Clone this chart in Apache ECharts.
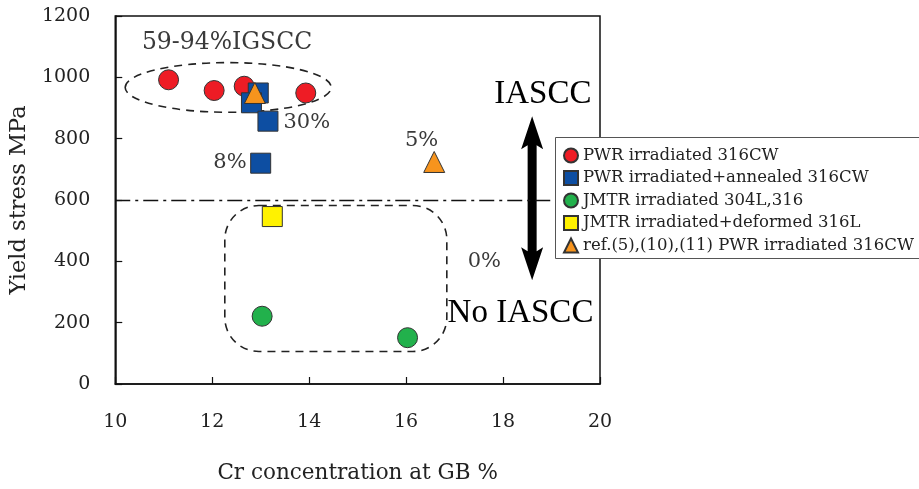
<!DOCTYPE html>
<html>
<head>
<meta charset="utf-8">
<script src="https://cdn.jsdelivr.net/npm/echarts@6/dist/echarts.min.js"></script>
<style>
  html, body { margin: 0; padding: 0; background: #fff; overflow: hidden; }
  #chart { width: 919px; height: 489px; }
</style>
</head>
<body>
<div id="chart"></div>
<script>
// Cr concentration at grain boundary (%) vs yield stress (MPa)
const pwrIrrX = [11.1, 12.04, 12.66, 13.93];
const pwrIrrY = [992, 957, 971, 949];

const pwrAnnX = [12.95, 12.81, 13.15, 13.0];
const pwrAnnY = [949, 917, 857, 720];

const jmtrX = [13.03, 16.03];
const jmtrY = [221, 151];

const jmtrDefX = [13.24];
const jmtrDefY = [546];

const refX = [12.88, 16.58];
const refY = [949, 724];

const seriesNames = [
  'PWR irradiated 316CW',
  'PWR irradiated+annealed 316CW',
  'JMTR irradiated 304L,316',
  'JMTR irradiated+deformed 316L',
  'ref.(5),(10),(11) PWR irradiated 316CW'
];

const xTicks = [10, 12, 14, 16, 18, 20];
const yTicks = [0, 200, 400, 600, 800, 1000, 1200];

// threshold separating IASCC / no IASCC regions
const thresholdY = 600;

// grouping outlines: [centerX, centerY, halfWidthX, halfHeightY]
const igsccEllipse = [12.33, 967, 2.125, 81];
// [xMin, yMin, xMax, yMax]
const noIasccBox = [12.26, 106, 16.84, 582];
// double arrow: [x, yLow, yHigh]
const arrowSpan = [18.6, 338, 873];

// text annotations: [x, y, text, kind]
const notes = [
  [10.55, 1112, '59-94%IGSCC', 'big'],
  [13.47, 853, '30%', 'pct'],
  [12.71, 723, '8%', 'pctR'],
  [16.32, 793, '5%', 'pctC'],
  [17.27, 399, '0%', 'pct'],
  [18.82, 944, 'IASCC', 'head'],
  [18.36, 230, 'No IASCC', 'head']
];

function zip(xs, ys) { return xs.map((x, i) => [x, ys[i]]); }

const SERIF = '"DejaVu Serif", serif';
const marker = { borderColor: '#333', borderWidth: 1, opacity: 1 };

const chart = echarts.init(document.getElementById('chart'));

const option = {
  backgroundColor: '#fff',
  animation: false,
  grid: {
    left: 113, right: 319, top: 16, bottom: 103,
    show: true, borderColor: '#111', borderWidth: 1.5, backgroundColor: 'transparent'
  },
  // legend frame, running past the right edge of the canvas
  graphic: [{
    type: 'rect', left: 555, top: 137, z: 15, silent: true,
    shape: { width: 420, height: 121 },
    style: { fill: '#fff', stroke: '#555', lineWidth: 1 }
  }],
  xAxis: {
    type: 'value', min: xTicks[0], max: xTicks[xTicks.length - 1], interval: 2,
    name: 'Cr concentration at GB %', nameLocation: 'middle', nameGap: 78,
    nameTextStyle: { fontFamily: SERIF, fontSize: 21.5, color: '#222' },
    axisLine: { show: true, lineStyle: { color: '#111', width: 1.5 } },
    axisTick: { show: true, inside: true, length: 7, lineStyle: { color: '#111', width: 1.2 } },
    axisLabel: { fontFamily: SERIF, fontSize: 19, color: '#222', margin: 29, formatter: v => String(v) },
    splitLine: { show: false }
  },
  yAxis: {
    type: 'value', min: yTicks[0], max: yTicks[yTicks.length - 1], interval: 200,
    name: 'Yield stress MPa', nameLocation: 'middle', nameGap: 79,
    nameTextStyle: { fontFamily: SERIF, fontSize: 22.5, color: '#222' },
    axisLine: { show: true, lineStyle: { color: '#111', width: 1.5 } },
    axisTick: { show: true, inside: true, length: 7, lineStyle: { color: '#111', width: 1.2 } },
    axisLabel: { fontFamily: SERIF, fontSize: 19, color: '#222', margin: 25, formatter: v => String(v) },
    splitLine: { show: false }
  },
  legend: {
    orient: 'vertical', left: 555, top: 137, z: 20,
    padding: [10, 8, 8, 8], itemGap: 5.5, itemWidth: 14, itemHeight: 14,
    borderWidth: 0,
    textStyle: { fontFamily: SERIF, fontSize: 16.5, color: '#222' },
    data: seriesNames
  },
  series: [
    {
      // dashed outlines, threshold arrow and text notes
      type: 'custom', coordinateSystem: 'cartesian2d', z: 1, silent: true, clip: false,
      data: [[0]],
      renderItem: function (params, api) {
        const children = [];
        const dash = { stroke: '#222', lineWidth: 1.6, lineDash: [8, 6], fill: null };
        // ellipse around IGSCC points
        const c = api.coord([igsccEllipse[0], igsccEllipse[1]]);
        const sz = api.size([igsccEllipse[2], igsccEllipse[3]]);
        children.push({ type: 'ellipse', shape: { cx: c[0], cy: c[1], rx: sz[0], ry: sz[1] }, style: dash });
        // rounded box around no-IASCC points
        const p0 = api.coord([noIasccBox[0], noIasccBox[3]]);
        const p1 = api.coord([noIasccBox[2], noIasccBox[1]]);
        children.push({ type: 'rect', shape: { x: p0[0], y: p0[1], width: p1[0] - p0[0], height: p1[1] - p0[1], r: 34 }, style: dash });
        // double-headed arrow
        const top = api.coord([arrowSpan[0], arrowSpan[2]]);
        const bot = api.coord([arrowSpan[0], arrowSpan[1]]);
        const ax = top[0], hw = 11, sw = 4.5, hl = 33;
        children.push({
          type: 'polygon',
          shape: { points: [
            [ax, top[1]], [ax + hw, top[1] + hl], [ax + sw, top[1] + hl - 4],
            [ax + sw, bot[1] - hl + 4], [ax + hw, bot[1] - hl], [ax, bot[1]],
            [ax - hw, bot[1] - hl], [ax - sw, bot[1] - hl + 4],
            [ax - sw, top[1] + hl - 4], [ax - hw, top[1] + hl]
          ] },
          style: { fill: '#000', stroke: null }
        });
        // text notes
        notes.forEach(function (n) {
          const p = api.coord([n[0], n[1]]);
          let st = { text: n[2], x: p[0], y: p[1], verticalAlign: 'middle', fill: '#3a3a3a', font: '21px ' + SERIF, align: 'left' };
          if (n[3] === 'big') st.font = '23.5px ' + SERIF;
          if (n[3] === 'pctR') st.align = 'right';
          if (n[3] === 'pctC') st.align = 'center';
          if (n[3] === 'head') { st.align = 'center'; st.fill = '#000'; st.font = '33px "Liberation Serif", serif'; }
          children.push({ type: 'text', style: st });
        });
        return { type: 'group', children: children };
      }
    },
    {
      name: seriesNames[0], type: 'scatter', symbol: 'circle', symbolSize: 20, z: 3,
      itemStyle: Object.assign({ color: '#ee1c25' }, marker),
      data: zip(pwrIrrX, pwrIrrY),
      markLine: {
        silent: true, symbol: 'none', label: { show: false },
        lineStyle: { color: '#111', width: 1.3, type: [15, 5, 3, 5] },
        data: [{ yAxis: thresholdY }]
      }
    },
    {
      name: seriesNames[1], type: 'scatter', symbol: 'rect', symbolSize: 20, z: 4,
      itemStyle: Object.assign({ color: '#0d4ea2' }, marker),
      data: zip(pwrAnnX, pwrAnnY)
    },
    {
      name: seriesNames[2], type: 'scatter', symbol: 'circle', symbolSize: 20, z: 3,
      itemStyle: Object.assign({ color: '#22b14c' }, marker),
      data: zip(jmtrX, jmtrY)
    },
    {
      name: seriesNames[3], type: 'scatter', symbol: 'rect', symbolSize: 20, z: 3,
      itemStyle: Object.assign({ color: '#fff200' }, marker),
      data: zip(jmtrDefX, jmtrDefY)
    },
    {
      name: seriesNames[4], type: 'scatter', symbol: 'triangle', symbolSize: 21, z: 5,
      itemStyle: Object.assign({ color: '#f7941d' }, marker),
      data: zip(refX, refY)
    }
  ]
};

chart.setOption(option);
</script>
</body>
</html>
